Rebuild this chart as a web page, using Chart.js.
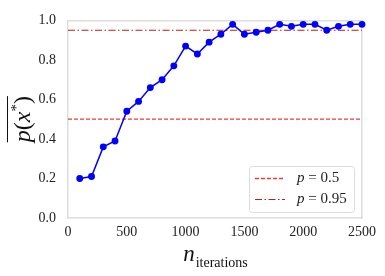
<!DOCTYPE html>
<html>
<head>
<meta charset="utf-8">
<script src="https://cdn.jsdelivr.net/npm/chart.js@4"></script>
<style>
  html, body { margin: 0; padding: 0; background: #fff; }
  #wrap { width: 385px; height: 276px; }
</style>
</head>
<body>
<div id="wrap"><canvas id="probChart" width="385" height="276"></canvas></div>
<script>
const iterations = [100, 200, 300, 400, 500, 600, 700, 800, 900, 1000, 1100, 1200, 1300,
  1400, 1500, 1600, 1700, 1800, 1900, 2000, 2100, 2200, 2300, 2400, 2500];
const meanProb = [0.20, 0.21, 0.36, 0.39, 0.54, 0.59, 0.66, 0.70, 0.77, 0.87, 0.83, 0.89, 0.93,
  0.98, 0.93, 0.94, 0.95, 0.98, 0.97, 0.98, 0.98, 0.95, 0.97, 0.98, 0.98];
const xRange = [0, 2500];
const refLevels = [0.5, 0.95];
const refLabels = ["p = 0.5", "p = 0.95"];
const xTicks = [0, 500, 1000, 1500, 2000, 2500];
const yTicks = [0.0, 0.2, 0.4, 0.6, 0.8, 1.0];

const serif = "'Liberation Serif', 'DejaVu Serif', serif";

// axis titles and legend drawn by hand (latex-ish look)
const extrasPlugin = {
  id: "extras",
  afterDraw(chart) {
    const ctx = chart.ctx;
    const area = chart.chartArea;

    // x title: n_iterations
    ctx.save();
    ctx.fillStyle = "#111";
    ctx.textBaseline = "alphabetic";
    ctx.font = "italic 23px " + serif;
    const nW = ctx.measureText("n").width;
    ctx.font = "14px " + serif;
    const subW = ctx.measureText("iterations").width;
    let x0 = (area.left + area.right) / 2 - (nW + subW) / 2;
    ctx.font = "italic 23px " + serif;
    ctx.fillText("n", x0, 261);
    ctx.font = "14px " + serif;
    ctx.fillText("iterations", x0 + nW + 1, 267);
    ctx.restore();

    // y title: overline p(x*)
    ctx.save();
    ctx.translate(30, (area.top + area.bottom) / 2);
    ctx.rotate(-Math.PI / 2);
    ctx.fillStyle = "#111";
    const parts = [
      { t: "p", f: "italic 24px " + serif, dy: 0 },
      { t: "(", f: "24px " + serif, dy: 0 },
      { t: "x", f: "italic 24px " + serif, dy: 0 },
      { t: "*", f: "15px " + serif, dy: -9 },
      { t: ")", f: "24px " + serif, dy: 0 },
    ];
    let total = 0;
    parts.forEach(p => { ctx.font = p.f; p.w = ctx.measureText(p.t).width; total += p.w; });
    let cx = -total / 2;
    parts.forEach(p => { ctx.font = p.f; ctx.fillText(p.t, cx, p.dy); cx += p.w; });
    ctx.strokeStyle = "#111";
    ctx.lineWidth = 1;
    ctx.beginPath();
    ctx.moveTo(-total / 2, -22.5);
    ctx.lineTo(total / 2, -22.5);
    ctx.stroke();
    ctx.restore();

    // legend box, lower right
    ctx.save();
    const bx = 249, by = 166, bw = 105, bh = 46, r = 3;
    ctx.fillStyle = "rgba(255,255,255,0.85)";
    ctx.strokeStyle = "#dcdcdc";
    ctx.lineWidth = 1;
    ctx.beginPath();
    ctx.roundRect(bx + 0.5, by + 0.5, bw, bh, r);
    ctx.fill();
    ctx.stroke();
    const refSets = chart.data.datasets.slice(1);
    refSets.forEach((ds, i) => {
      const ly = by + 12.5 + i * 21;
      ctx.strokeStyle = ds.borderColor;
      ctx.lineWidth = ds.borderWidth;
      ctx.setLineDash(ds.borderDash);
      ctx.beginPath();
      ctx.moveTo(bx + 6, ly);
      ctx.lineTo(bx + 36, ly);
      ctx.stroke();
      ctx.setLineDash([]);
      ctx.fillStyle = "#222";
      ctx.textBaseline = "middle";
      ctx.font = "italic 15px " + serif;
      const tx = bx + 48;
      ctx.fillText("p", tx, ly);
      const pw = ctx.measureText("p").width;
      ctx.font = "15px " + serif;
      ctx.fillText(" = " + ds.label.split("= ")[1], tx + pw, ly);
    });
    ctx.restore();
  }
};

const ctx = document.getElementById("probChart").getContext("2d");

new Chart(ctx, {
  type: "line",
  data: {
    datasets: [
      {
        label: "mean",
        data: iterations.map((it, i) => ({ x: it, y: meanProb[i] })),
        borderColor: "#0000ff",
        backgroundColor: "#0000ff",
        borderWidth: 1.5,
        pointRadius: 2.7,
        pointHoverRadius: 2.7,
        clip: false,
        order: 0,
      },
      {
        label: refLabels[0],
        data: xRange.map(x => ({ x, y: refLevels[0] })),
        borderColor: "#f03a3a",
        borderWidth: 1.3,
        borderDash: [4, 2],
        pointRadius: 0,
        order: 1,
      },
      {
        label: refLabels[1],
        data: xRange.map(x => ({ x, y: refLevels[1] })),
        borderColor: "#c41a1a",
        borderWidth: 1.1,
        borderDash: [7, 2.5, 1.5, 2.5],
        pointRadius: 0,
        order: 1,
      },
    ],
  },
  options: {
    responsive: false,
    animation: false,
    layout: { padding: { top: 12, right: 23, left: 0, bottom: 0 } },
    scales: {
      x: {
        type: "linear",
        min: xRange[0],
        max: xRange[1],
        afterBuildTicks: s => { s.ticks = xTicks.map(v => ({ value: v })); },
        afterFit: s => { s.height = 58; },
        grid: { display: false, drawTicks: false },
        border: { display: true, color: "#dddddd", width: 1.5 },
        ticks: {
          padding: 6,
          color: "#222",
          font: { family: serif, size: 14 },
          maxRotation: 0,
          callback: v => String(v),
        },
      },
      y: {
        min: 0,
        max: 1,
        afterBuildTicks: s => { s.ticks = yTicks.map(v => ({ value: v })); },
        afterFit: s => { s.width = 68; },
        grid: { display: false, drawTicks: false },
        border: { display: true, color: "#dddddd", width: 1.5 },
        ticks: {
          padding: 12,
          color: "#222",
          font: { family: serif, size: 14 },
          callback: v => Number(v).toFixed(1),
        },
      },
      x2: {
        type: "linear", position: "top", min: 0, max: 2500,
        grid: { display: false, drawTicks: false },
        border: { display: true, color: "#dddddd", width: 1.5 },
        ticks: { display: false },
        afterFit: s => { s.height = 0; },
      },
      y2: {
        position: "right", min: 0, max: 1,
        grid: { display: false, drawTicks: false },
        border: { display: true, color: "#dddddd", width: 1.5 },
        ticks: { display: false },
        afterFit: s => { s.width = 0; },
      },
    },
    plugins: {
      legend: { display: false },
      tooltip: { enabled: false },
    },
  },
  plugins: [extrasPlugin],
});
</script>
</body>
</html>
